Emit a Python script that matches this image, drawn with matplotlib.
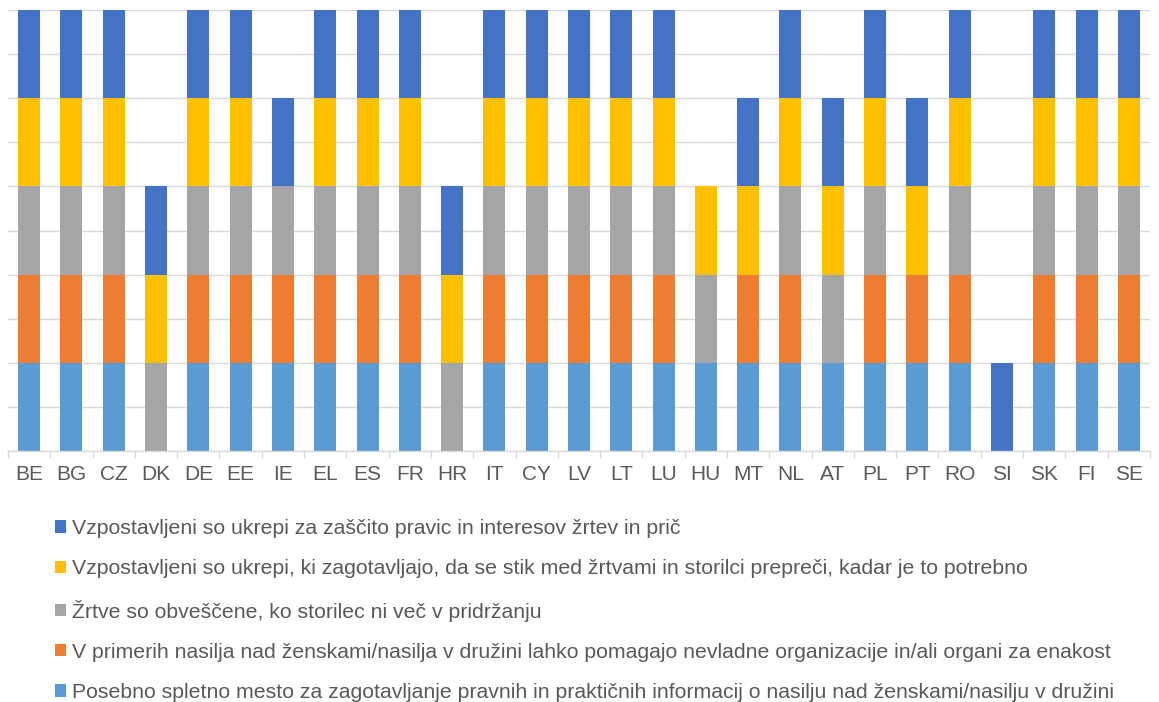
import numpy as np
import matplotlib.pyplot as plt
from matplotlib.patches import Patch

plt.rcParams['font.family'] = ['Liberation Sans', 'DejaVu Sans']

countries = ['BE', 'BG', 'CZ', 'DK', 'DE', 'EE', 'IE', 'EL', 'ES', 'FR', 'HR', 'IT', 'CY', 'LV',
             'LT', 'LU', 'HU', 'MT', 'NL', 'AT', 'PL', 'PT', 'RO', 'SI', 'SK', 'FI', 'SE']

# 1 = measure in place, 0 = not (stacked bottom -> top)
web_site = [1, 1, 1, 0, 1, 1, 1, 1, 1, 1, 0, 1, 1, 1, 1, 1, 1, 1, 1, 1, 1, 1, 1, 0, 1, 1, 1]
ngo_help = [1, 1, 1, 0, 1, 1, 1, 1, 1, 1, 0, 1, 1, 1, 1, 1, 0, 1, 1, 0, 1, 1, 1, 0, 1, 1, 1]
informed = [1, 1, 1, 1, 1, 1, 1, 1, 1, 1, 1, 1, 1, 1, 1, 1, 1, 0, 1, 1, 1, 0, 1, 0, 1, 1, 1]
no_contact = [1, 1, 1, 1, 1, 1, 0, 1, 1, 1, 1, 1, 1, 1, 1, 1, 1, 1, 1, 1, 1, 1, 1, 0, 1, 1, 1]
protection = [1, 1, 1, 1, 1, 1, 1, 1, 1, 1, 1, 1, 1, 1, 1, 1, 0, 1, 1, 1, 1, 1, 1, 1, 1, 1, 1]

labels = [
    'Posebno spletno mesto za zagotavljanje pravnih in praktičnih informacij o nasilju nad ženskami/nasilju v družini',
    'V primerih nasilja nad ženskami/nasilja v družini lahko pomagajo nevladne organizacije in/ali organi za enakost',
    'Žrtve so obveščene, ko storilec ni več v pridržanju',
    'Vzpostavljeni so ukrepi, ki zagotavljajo, da se stik med žrtvami in storilci prepreči, kadar je to potrebno',
    'Vzpostavljeni so ukrepi za zaščito pravic in interesov žrtev in prič',
]
colors = ['#5B9BD5', '#ED7D31', '#A5A5A5', '#FFC000', '#4472C4']
series = [web_site, ngo_help, informed, no_contact, protection]

fig = plt.figure(figsize=(11.59, 7.02), dpi=100)
ax = fig.add_axes([0.0069, 0.3575, 0.9853, 0.6283])

x = np.arange(len(countries))
bottom = np.zeros(len(countries))
for vals, col in zip(series, colors):
    vals = np.array(vals, dtype=float)
    ax.bar(x, vals, 0.52, bottom=bottom, color=col, zorder=3)
    bottom += vals

ax.set_xlim(-0.5, len(countries) - 0.5)
ax.set_ylim(0, 5)
ax.set_yticks(np.arange(0, 5.01, 0.5))
ax.yaxis.grid(True, color='#D9D9D9', linewidth=1.0, zorder=0)
ax.tick_params(axis='y', left=False, labelleft=False)
for s in ['top', 'right', 'left']:
    ax.spines[s].set_visible(False)
ax.spines['bottom'].set_color('#D9D9D9')
ax.spines['bottom'].set_linewidth(1.0)
ax.spines['bottom'].set_zorder(4)

ax.set_xticks(x)
ax.set_xticklabels(countries, fontsize=15, color='#595959')
ax.set_xticks(np.arange(-0.5, len(countries), 1.0), minor=True)
ax.tick_params(axis='x', which='major', length=0, pad=10)
ax.tick_params(axis='x', which='minor', length=5, color='#D9D9D9', width=1.0)

handles = [Patch(facecolor=c) for c in colors[::-1]]
fig.legend(handles, labels[::-1], loc='upper left', bbox_to_anchor=(55 / 1159, 1 - 519 / 702),
           frameon=False, fontsize=15.3, handlelength=0.52, handleheight=0.52, handletextpad=0.3,
           labelspacing=1.0, borderpad=0, borderaxespad=0, labelcolor='#595959')

fig.savefig('out.png', dpi=100)
